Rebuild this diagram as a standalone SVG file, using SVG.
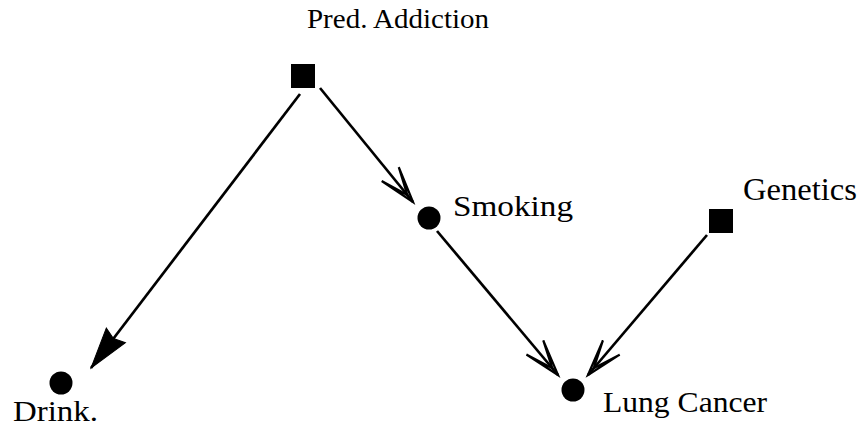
<svg xmlns="http://www.w3.org/2000/svg" width="865" height="428" viewBox="0 0 865 428">
<style>
.lbl{font-family:"Liberation Serif","Times New Roman",serif;fill:#000}
.edge{stroke:#000;stroke-width:2.7;fill:none}
.sq{fill:#000}
.dot{fill:#000}
</style>
<defs>
<marker id="filled" markerUnits="userSpaceOnUse" viewBox="-44 -14 46 28" markerWidth="46" markerHeight="28" refX="0" refY="0" orient="auto" overflow="visible">
<path d="M0,0 L-41,-12 L-37,0 L-41,12 Z" fill="#000" stroke="#000" stroke-width="1"/>
</marker>
<marker id="open" markerUnits="userSpaceOnUse" viewBox="-42 -14 44 28" markerWidth="44" markerHeight="28" refX="0" refY="0" orient="auto" overflow="visible">
<path d="M0,0 L-36,-11 L-9,0 L-36,11 Z" fill="none" stroke="#000" stroke-width="2.2" stroke-linejoin="miter"/>
</marker>
</defs>
<g id="connectors">
<line class="edge" x1="300" y1="94" x2="91" y2="368" marker-end="url(#filled)"/>
<line class="edge" x1="320" y1="88" x2="413" y2="202" marker-end="url(#open)"/>
<line class="edge" x1="437" y1="231" x2="558" y2="375" marker-end="url(#open)"/>
<line class="edge" x1="707" y1="235" x2="588" y2="375" marker-end="url(#open)"/>
</g>
<g id="pred-addiction">
<rect class="sq" x="291" y="64" width="24" height="24"/>
<text class="lbl" x="307" y="28" font-size="27" textLength="182" lengthAdjust="spacingAndGlyphs">Pred. Addiction</text>
</g>
<g id="smoking">
<circle class="dot" cx="429" cy="218" r="11.5"/>
<text class="lbl" x="453" y="216" font-size="30" textLength="120" lengthAdjust="spacingAndGlyphs">Smoking</text>
</g>
<g id="genetics">
<rect class="sq" x="709" y="209" width="24" height="24"/>
<text class="lbl" x="743" y="200" font-size="31" textLength="114" lengthAdjust="spacingAndGlyphs">Genetics</text>
</g>
<g id="lung-cancer">
<circle class="dot" cx="573" cy="390" r="11.5"/>
<text class="lbl" x="603" y="412" font-size="30" textLength="164" lengthAdjust="spacingAndGlyphs">Lung Cancer</text>
</g>
<g id="drink">
<circle class="dot" cx="61" cy="383" r="11.5"/>
<text class="lbl" x="13" y="421" font-size="29" textLength="85" lengthAdjust="spacingAndGlyphs">Drink.</text>
</g>
</svg>
